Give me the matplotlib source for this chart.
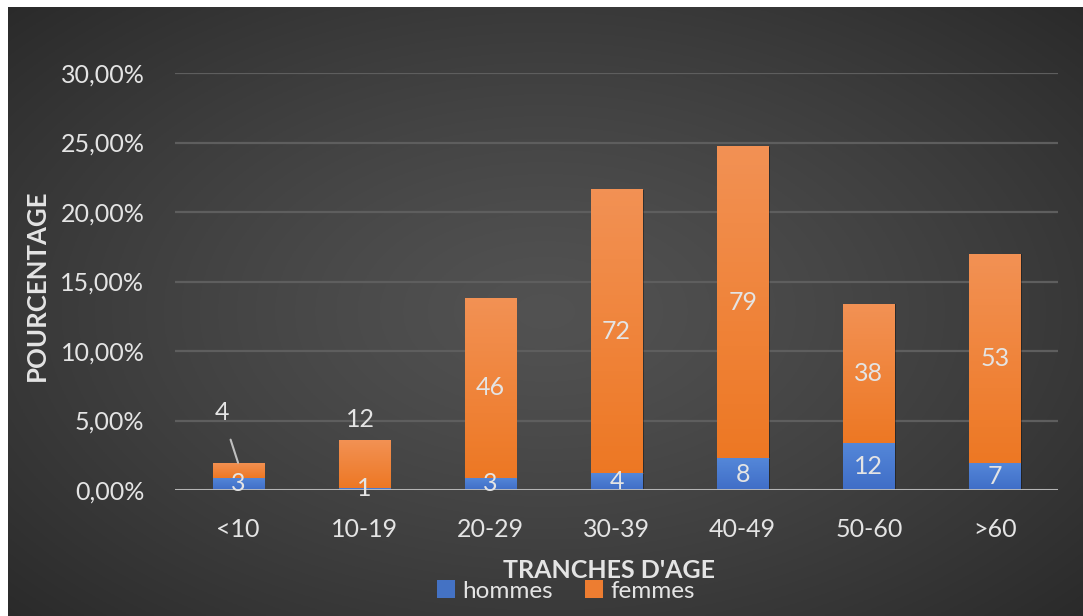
import numpy as np
import matplotlib
matplotlib.use('Agg')
import matplotlib.pyplot as plt
from matplotlib.patches import Rectangle
from matplotlib.ticker import FuncFormatter

plt.rcParams['font.family'] = ['Lato', 'DejaVu Sans']

# --- data ---
categories = ['<10', '10-19', '20-29', '30-39', '40-49', '50-60', '>60']
hommes_n = [3, 1, 3, 4, 8, 12, 7]
femmes_n = [4, 12, 46, 72, 79, 38, 53]
hommes_pct = [0.88, 0.15, 0.88, 1.20, 2.28, 3.40, 1.96]
femmes_pct = [1.08, 3.45, 12.92, 20.45, 22.47, 10.00, 15.04]

W, H = 1083, 616
TXT = '#e4e4e4'
fig = plt.figure(figsize=(W / 100, H / 100), dpi=100, facecolor='white')

# dark radial background panel
bg = fig.add_axes([8 / W, 0, 1 - 8 / W, 609 / H], zorder=0)
yy, xx = np.mgrid[-1:1:300j, -1:1:500j]
r = np.sqrt((xx * 0.95) ** 2 + (yy * 0.9) ** 2) / np.sqrt(2)
shade = 0.32 - 0.17 * r ** 1.3
bg.imshow(np.dstack([shade] * 3), aspect='auto', extent=[0, 1, 0, 1])
bg.set_axis_off()

ax = fig.add_axes([175 / W, 1 - 490 / H, (1058 - 175) / W, (490 - 73) / H], zorder=1)
ax.patch.set_alpha(0)

x = np.arange(len(categories))
width = 0.405
bars_h = ax.bar(x, hommes_pct, width, color='#4472C4', zorder=3)
bars_f = ax.bar(x, femmes_pct, width, bottom=hommes_pct, color='#ED7D31', zorder=3)


def shade_bars(bars, top, bottom):
    # vertical colour ramp inside each bar
    grad = np.linspace(0, 1, 64)[:, None]
    cols = np.array(top) * (1 - grad[..., None]) + np.array(bottom) * grad[..., None]
    for b in bars:
        x0, y0 = b.get_x(), b.get_y()
        w, h = b.get_width(), b.get_height()
        # soft shadow to the lower right
        ax.add_patch(Rectangle((x0 + 0.012, y0), w, h - 0.05, color='black',
                               alpha=0.35, zorder=2, lw=0))
        im = ax.imshow(cols, extent=[x0, x0 + w, y0, y0 + h], aspect='auto',
                       zorder=3.5, origin='upper')
        im.set_clip_path(b)


shade_bars(bars_f, (0.95, 0.57, 0.33), (0.93, 0.47, 0.14))
shade_bars(bars_h, (0.33, 0.53, 0.85), (0.25, 0.43, 0.78))

ax.set_xlim(-0.5, len(categories) - 0.5)
ax.set_ylim(0, 30)
ax.set_yticks(np.arange(0, 31, 5))
ax.yaxis.set_major_formatter(FuncFormatter(lambda v, p: f'{v:.2f}%'.replace('.', ',')))
ax.set_xticks(x)
ax.set_xticklabels(categories)
ax.tick_params(axis='both', length=0, labelsize=18, colors=TXT)
ax.tick_params(axis='y', pad=22)
ax.tick_params(axis='x', pad=20)
ax.grid(axis='y', color='#5e5e5e', lw=1.6, zorder=1)
for s in ax.spines.values():
    s.set_visible(False)
ax.axhline(0, color='#bfbfbf', lw=2, zorder=4)

# count labels
lab = dict(color=TXT, fontsize=18, ha='center', va='center', zorder=5)
for i in range(len(categories)):
    hc = hommes_pct[i] / 2
    ax.text(x[i], hc, str(hommes_n[i]), **lab)
    if i == 0:
        ax.annotate(str(femmes_n[i]), xy=(x[i], hommes_pct[i] + femmes_pct[i]),
                    xytext=(x[i] - 0.13, 5.6), textcoords='data',
                    arrowprops=dict(arrowstyle='-', color='#bfbfbf', lw=1.5,
                                    shrinkA=10, shrinkB=0), **lab)
    elif i == 1:
        ax.text(x[i] - 0.03, 5.1, str(femmes_n[i]), **lab)
    else:
        ax.text(x[i], hommes_pct[i] + femmes_pct[i] / 2, str(femmes_n[i]), **lab)

fig.text(37 / W, 1 - 285 / H, 'POURCENTAGE', rotation=90, ha='center', va='center',
         fontsize=18.5, fontweight='bold', color=TXT)
fig.text(609 / W, 1 - 571 / H, "TRANCHES D'AGE", ha='center', va='center',
         fontsize=18, fontweight='bold', color=TXT, zorder=5)

# legend
leg = ax.legend([bars_h, bars_f], ['hommes', 'femmes'], loc='center',
                bbox_to_anchor=(566 / W, 1 - 591 / H), bbox_transform=fig.transFigure,
                ncol=2, frameon=False, fontsize=17.5, labelcolor=TXT,
                handlelength=0.75, handleheight=0.75, handletextpad=0.3, columnspacing=1.3)

fig.savefig('out.png', dpi=100, facecolor='white')
